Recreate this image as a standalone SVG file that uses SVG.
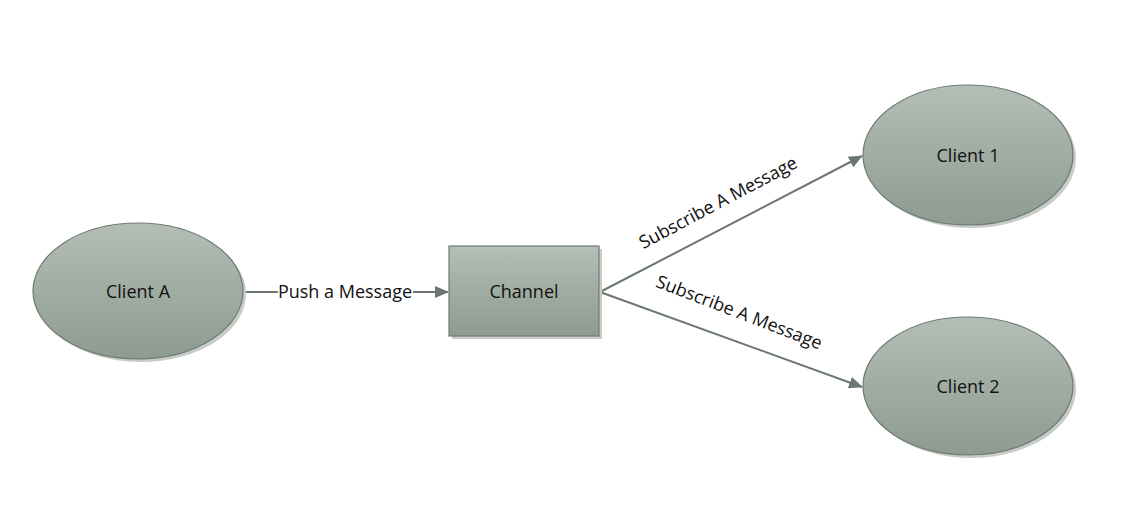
<svg xmlns="http://www.w3.org/2000/svg" width="1127" height="507" viewBox="0 0 1127 507">
<defs>
<linearGradient id="g" x1="0" y1="0" x2="0" y2="1">
<stop offset="0" stop-color="#b4beb6"/>
<stop offset="1" stop-color="#8d9b90"/>
</linearGradient>
<marker id="arr" markerWidth="14" markerHeight="12" refX="13" refY="6" orient="auto" markerUnits="userSpaceOnUse">
<path d="M0,0 L14,6 L0,12 Z" fill="#6b7770"/>
</marker>
</defs>
<style>
.shape{fill:url(#g);stroke:#6e7a72;stroke-width:1.2}
.shadow{fill:#c8ccc9}
.lbl{font-family:"Open Sans","Liberation Sans",sans-serif;font-size:18px;fill:#111;text-anchor:middle}
.conn{stroke:#6b7770;stroke-width:2;fill:none}
</style>
<rect width="1127" height="507" fill="#fff"/>
<g id="connectors">
<line class="conn" x1="243" y1="292" x2="448" y2="292" marker-end="url(#arr)"/>
<line class="conn" x1="600" y1="292" x2="862" y2="156" marker-end="url(#arr)"/>
<line class="conn" x1="600" y1="292" x2="862" y2="387" marker-end="url(#arr)"/>
<rect x="278" y="280" width="135" height="24" fill="#fff"/>
<text class="lbl" x="345" y="298">Push a Message</text>
<text class="lbl" transform="translate(721,208) rotate(-28)">Subscribe A Message</text>
<text class="lbl" transform="translate(737,318) rotate(21)">Subscribe A Message</text>
</g>
<g id="clientA">
<ellipse class="shadow" cx="141" cy="294" rx="105" ry="68"/>
<ellipse class="shape" cx="138" cy="291" rx="105" ry="68"/>
<text class="lbl" x="138" y="298">Client A</text>
</g>
<g id="channel">
<rect class="shadow" x="452" y="249" width="150" height="90"/>
<rect class="shape" x="449" y="246" width="150" height="90"/>
<text class="lbl" x="524" y="298">Channel</text>
</g>
<g id="client1">
<ellipse class="shadow" cx="971" cy="158" rx="105" ry="70"/>
<ellipse class="shape" cx="968" cy="155" rx="105" ry="70"/>
<text class="lbl" x="968" y="162">Client 1</text>
</g>
<g id="client2">
<ellipse class="shadow" cx="971" cy="389" rx="105" ry="69"/>
<ellipse class="shape" cx="968" cy="386" rx="105" ry="69"/>
<text class="lbl" x="968" y="393">Client 2</text>
</g>
</svg>
